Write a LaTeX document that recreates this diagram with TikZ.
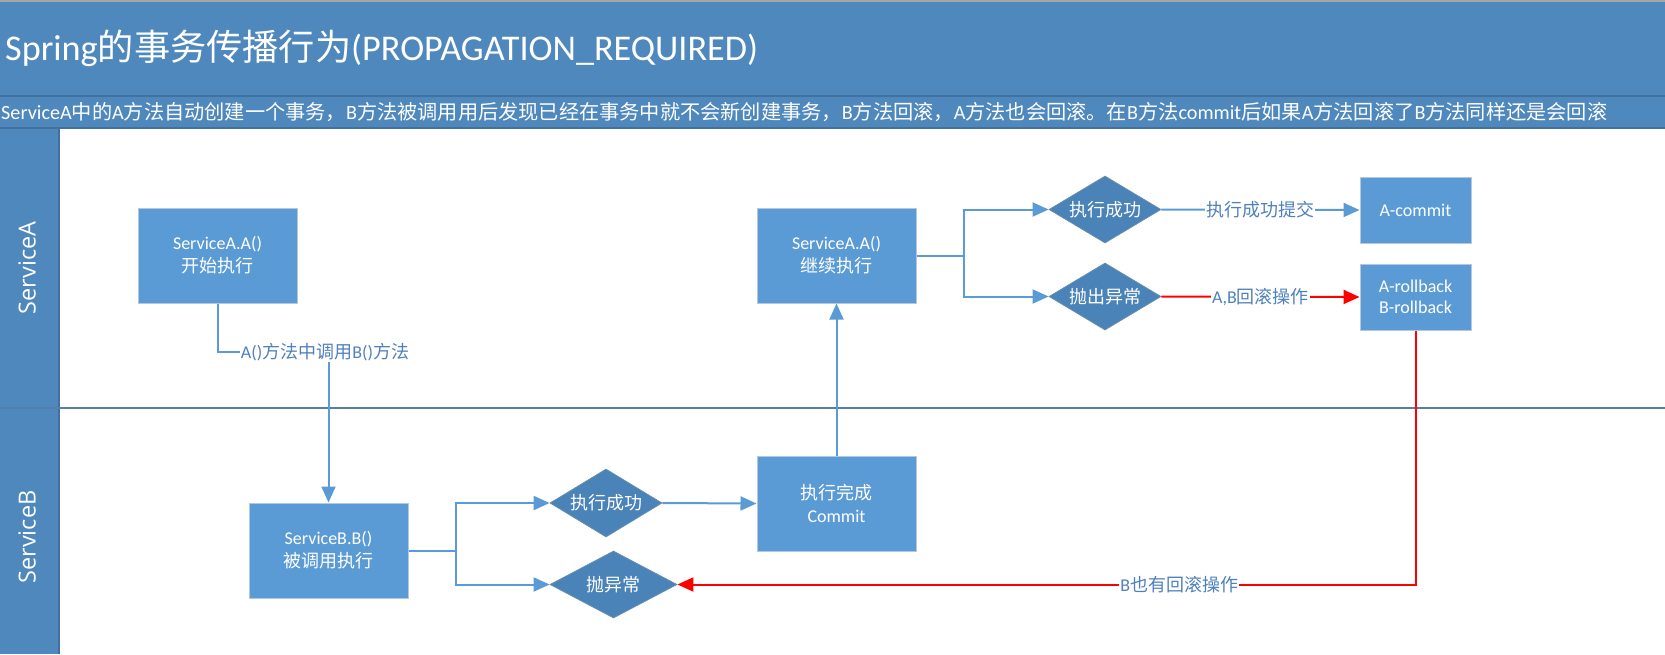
\documentclass[tikz,border=0pt]{standalone}
\usepackage{fontspec}
\setmainfont{Carlito}
\newfontfamily\cjk{Noto Sans CJK SC}
\newfontfamily\lanefont{Open Sans}
\newcommand{\zh}[1]{{\cjk #1}}
\usepackage{tikz}
\usetikzlibrary{shapes.geometric}
\usetikzlibrary{arrows.meta}
\definecolor{bandblue}{HTML}{4E88BC}
\definecolor{edgeblue}{HTML}{41719C}
\definecolor{boxblue}{HTML}{5B9BD5}
\definecolor{boxedge}{HTML}{B3C8DE}
\definecolor{diablue}{HTML}{4A83B7}
\definecolor{lineblue}{HTML}{5B9BD5}
\definecolor{textblue}{HTML}{4F81BD}
\definecolor{rollred}{HTML}{FF0000}
\tikzset{
  procbox/.style={rectangle, fill=boxblue, draw=boxedge, line width=1pt, text=white, align=center},
  bigbox/.style={procbox, minimum width=159pt, minimum height=95pt, font=\fontsize{18}{23}\selectfont},
  smallbox/.style={procbox, minimum width=111pt, minimum height=66pt, font=\fontsize{18}{21}\selectfont},
  decide/.style={diamond, aspect=1.67, inner sep=0pt, fill=diablue, draw=edgeblue!80, line width=0.8pt, text=white, font=\fontsize{18}{22}\selectfont},
  flow/.style={lineblue, line width=2pt, -{Triangle[length=16pt,width=14pt]}},
  rollflow/.style={rollred, line width=2pt, -{Triangle[length=16pt,width=14pt]}},
  lbl/.style={fill=white, inner sep=1pt, text=textblue, font=\fontsize{18}{22}\selectfont},
}
\begin{document}
\begin{tikzpicture}[x=1pt,y=-1pt]
  \useasboundingbox (0,0) rectangle (1665,654);
  % title and lanes
  \fill[bandblue] (0,0) rectangle (1665,128);
  \fill[bandblue] (0,128) rectangle (59,654);
  \draw[black!35, line width=2pt] (0,1) -- (1665,1);
  \draw[edgeblue, line width=1.5pt] (0,96) -- (1665,96) (0,128) -- (1665,128);
  \draw[edgeblue, line width=1.5pt] (59,128) -- (59,654);
  \draw[edgeblue!90, line width=2pt] (0,408) -- (1665,408);
  \node[anchor=west, text=white, inner sep=0pt, font=\fontsize{36.2}{42}\selectfont] (title) at (5,48)
    {Spring\zh{的事务传播行为}(PROPAGATION\_REQUIRED)};
  \node[anchor=west, text=white, inner sep=0pt, font=\fontsize{20.2}{24}\selectfont] (intro) at (1,112)
    {ServiceA\zh{中的}A\zh{方法自动创建一个事务，}B\zh{方法被调用用后发现已经在事务中就不会新创建事务，}B\zh{方法回滚，}A\zh{方法也会回滚。在}B\zh{方法}commit\zh{后如果}A\zh{方法回滚了}B\zh{方法同样还是会回滚}};
  \node[rotate=90, text=white, font=\lanefont\fontsize{23.5}{28}\selectfont] (lanea) at (27,268) {ServiceA};
  \node[rotate=90, text=white, font=\lanefont\fontsize{23.5}{28}\selectfont] (laneb) at (27,537) {ServiceB};

  % ServiceA
  \node[bigbox] (sa1) at (217.5,255.5) {ServiceA.A()\\\zh{开始执行}};
  \node[bigbox] (sa2) at (836.5,255.5) {ServiceA.A()\\\zh{继续执行}};
  \node[decide, minimum width=112pt, minimum height=67pt] (dok1) at (1105,209.5) {\zh{执行成功}};
  \node[decide, minimum width=112pt, minimum height=67pt] (derr1) at (1105,296.5) {\zh{抛出异常}};
  \node[smallbox] (acommit) at (1415.5,210) {A-commit};
  \node[smallbox] (aroll) at (1415.5,297) {A-rollback\\B-rollback};

  % ServiceB
  \node[bigbox] (sb1) at (328.5,550.5) {ServiceB.B()\\\zh{被调用执行}};
  \node[decide, minimum width=112pt, minimum height=68pt] (dok2) at (606,503) {\zh{执行成功}};
  \node[decide, minimum width=127pt, minimum height=67pt] (derr2) at (613.5,584.5) {\zh{抛异常}};
  \node[bigbox] (bdone) at (836.5,503.5) {\zh{执行完成}\\Commit};

  % connectors
  \coordinate (callpt) at (325,352);
  \draw[flow] (sa1.south) |- (sb1.north |- callpt) -- (sb1.north);
  \node[lbl] (call) at (callpt) {A()\zh{方法中调用}B()\zh{方法}};
  \draw[flow] (sb1.east) -- ++(47,0) |- (dok2.west);
  \draw[flow] (sb1.east) -- ++(47,0) |- (derr2.west);
  \draw[flow] (dok2.east) -- (bdone.west);
  \draw[flow] (bdone.north) -- (sa2.south);
  \draw[flow] (sa2.east) -- ++(47,0) |- (dok1.west);
  \draw[flow] (sa2.east) -- ++(47,0) |- (derr1.west);
  \draw[flow] (dok1.east) -- node[lbl] (oklbl) {\zh{执行成功提交}} (acommit.west);
  \draw[rollflow] (derr1.east) -- node[lbl] (ablbl) {A,B\zh{回滚操作}} (aroll.west);
  \draw[rollflow] (aroll.south) |- node[lbl, pos=0.66] (blbl) {B\zh{也有回滚操作}} (derr2.east);
\end{tikzpicture}
\end{document}
